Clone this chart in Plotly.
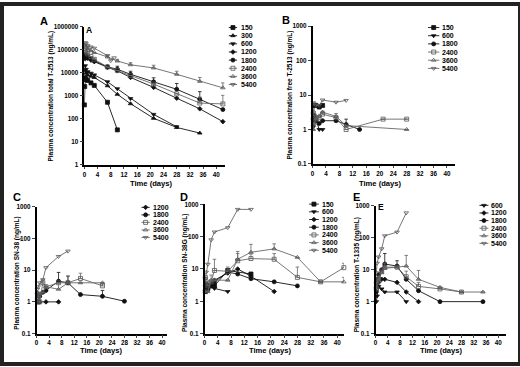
import plotly.graph_objects as go

# ---------------- DATA ----------------
X_TICKS = [0, 4, 8, 12, 16, 20, 24, 28, 32, 36, 40]
T_FULL = [0.25, 0.5, 1, 2, 3, 7, 10, 14, 21, 28, 35, 42]

# Panel A: total T-2513 (ng/mL)
A_150_t = [0, 0.1, 0.25, 0.5, 1, 2, 3, 7, 10]
A_150_v = [400, 2500, 6000, 5000, 4600, 3600, 2800, 520, 33]
A_300_t = [0.25, 0.5, 1, 2, 3, 7, 10, 14, 21, 28, 35]
A_300_v = [12000, 9500, 8000, 7000, 6200, 2700, 1150, 450, 105, 42, 24]
A_600_t = [0.25, 0.5, 1, 2, 3, 7, 10, 14, 21, 28]
A_600_v = [20000, 14000, 11000, 9500, 8000, 4000, 2000, 750, 155, 45]
A_1200_v = [40000, 45000, 42000, 35000, 30000, 17000, 12000, 6200, 2300, 780, 270, 75]
A_1800_v = [60000, 55000, 48000, 40000, 33000, 18000, 14000, 8500, 4000, 1900, 700, 250]
A_1800_e = [0, 0, 0, 0, 0, 3000, 5000, 3000, 2000, 1500, 800, 0]
A_2400_v = [90000, 80000, 65000, 50000, 38000, 17500, 12500, 7500, 3200, 1200, 480, 440]
A_2400_e = [0, 0, 0, 0, 0, 0, 0, 0, 0, 0, 400, 600]
A_3600_v = [150000, 130000, 110000, 90000, 75000, 48000, 32000, 22000, 16000, 8500, 4200, 2200]
A_3600_e = [0, 0, 0, 0, 0, 8000, 6000, 5000, 5000, 3000, 2000, 1400]
A_5400_t = [0.25, 0.5, 1, 2, 3, 7, 8, 9]
A_5400_v = [200000, 180000, 150000, 130000, 115000, 55000, 33000, 44000]

# Panel B: free T-2513 (ng/mL)
B_150_t = [0.25, 0.5, 1, 2, 3]
B_150_v = [2, 5, 5, 4.5, 5]
B_600_t = [0.25, 0.5, 1, 2, 3]
B_600_v = [1.2, 1.8, 2, 1, 1]
B_1800_t = [0.25, 0.5, 1, 2, 3, 7, 10, 14]
B_1800_v = [2, 2.5, 1.8, 1.5, 1.8, 1.8, 1.4, 1.0]
B_1800_e = [0, 0, 0, 0, 0, 0, 0.6, 0]
B_2400_t = [0.25, 0.5, 1, 2, 3, 7, 10, 21, 28]
B_2400_v = [3, 2.5, 2, 2.2, 2.8, 2.2, 1.0, 2, 2]
B_2400_e = [0, 0, 0, 0, 0.6, 0, 0, 0, 0]
B_3600_t = [0.25, 0.5, 1, 2, 3, 7, 10, 28]
B_3600_v = [1, 1.5, 2, 2.5, 3.2, 2.4, 1.3, 1]
B_3600_e = [0, 0, 0, 0, 0, 0.5, 0, 0]
B_5400_t = [0.25, 0.5, 1, 2, 3, 7, 10]
B_5400_v = [6, 5.5, 5, 5, 7.2, 6.2, 7]

# Panel C: SN-38 (ng/mL)
C_1200_t = [0.25, 0.5, 1, 3, 7]
C_1200_v = [1, 1, 1, 1, 1]
C_1800_t = [0.25, 0.5, 1, 2, 3, 7, 10, 14, 21, 28]
C_1800_v = [1.8, 1.5, 1.5, 2, 2.3, 4.5, 4, 1.7, 1.5, 1.05]
C_1800_e = [0, 0, 0, 0, 0, 4, 2.5, 0, 0.8, 0]
C_2400_t = [0.25, 0.5, 1, 2, 3, 7, 10, 14, 21]
C_2400_v = [1.2, 1, 1, 4, 3, 4, 4, 5.5, 3.2]
C_2400_e = [0, 0, 0, 1, 0, 0, 0, 2.5, 0.8]
C_3600_t = [0.25, 0.5, 1, 2, 3, 7, 10, 14, 21]
C_3600_v = [2, 1.5, 1.8, 2, 3, 2.5, 4, 4, 4]
C_3600_e = [0, 0, 0, 0, 0, 1.5, 2.5, 0, 0]
C_5400_t = [0.25, 0.5, 1, 2, 3, 7, 10]
C_5400_v = [2.5, 3, 4, 5, 12, 27, 40]

# Panel D: SN-38G (ng/mL)
D_150_t = [0.25, 0.5, 1, 2, 3, 7, 14]
D_150_v = [2, 3, 2.5, 3, 3, 9, 7]
D_600_t = [0.25, 0.5, 1, 3, 7]
D_600_v = [2, 2.2, 3, 2.5, 2]
D_1200_t = [0.25, 0.5, 1, 2, 3, 7, 10, 14, 21]
D_1200_v = [3, 2.5, 3, 3.5, 4.5, 7.5, 10, 6, 2]
D_1800_t = [0.25, 0.5, 1, 2, 3, 7, 10, 14, 21, 28]
D_1800_v = [3, 3.5, 2.5, 3, 4, 8, 7, 5, 4, 3]
D_2400_v = [5.5, 4, 3, 4, 9, 8.5, 18, 21, 20, 5.5, 4, 11]
D_2400_e = [0, 0, 0, 0, 11, 3, 12, 8, 10, 6, 0, 4]
D_3600_v = [2, 2, 2, 4.5, 4.5, 4.5, 20, 33, 42, 23, 4, 4]
D_3600_e = [0, 0, 0, 2, 0, 0, 15, 25, 18, 0, 0, 1.5]
D_5400_t = [0.25, 0.5, 1, 2, 3, 7, 10, 14]
D_5400_v = [5, 8, 14, 80, 140, 190, 700, 700]

# Panel E: T-1335 (ng/mL)
E_600_t = [0.25, 0.5, 1, 2, 3, 7, 10]
E_600_v = [1, 1.5, 3, 2.5, 2, 2, 1]
E_1200_t = [0.25, 0.5, 1, 2, 3, 7, 10, 14]
E_1200_v = [2, 3, 4, 5, 5, 4, 2, 1]
E_1800_t = [0.25, 0.5, 1, 2, 3, 7, 10, 14, 21, 35]
E_1800_v = [4, 5, 7, 10, 15, 13, 5, 2.2, 1, 1]
E_1800_e = [0, 0, 0, 0, 17, 6, 0, 0, 0, 0]
E_2400_t = [0.25, 0.5, 1, 2, 3, 7, 10, 14, 21, 28]
E_2400_v = [2.5, 4, 5, 9, 12, 12, 6, 3, 2.5, 2]
E_2400_e = [0, 0, 0, 0, 0, 0, 3, 1, 0, 0]
E_3600_t = [0.25, 0.5, 1, 2, 3, 7, 10, 14, 21, 28, 35]
E_3600_v = [3, 4, 6, 8, 11, 12, 13, 5, 2.8, 2, 2]
E_3600_e = [0, 0, 0, 0, 5, 0, 15, 4.5, 0, 0, 0]
E_5400_t = [0.25, 0.5, 1, 2, 3, 7, 10]
E_5400_v = [8, 16, 25, 45, 115, 150, 600]

A_YTICKS = [1, 10, 100, 1000, 10000, 100000, 1000000]
BE_YTICKS = [0.1, 1, 10, 100, 1000]
BE_YTEXT = ["0.1", "1", "10", "100", "1000"]

# ---------------- STYLE / LAYOUT ----------------
W, H = 520, 367
FONT = "Liberation Sans, Arial, sans-serif"
STYLE = {
    "150": ("square", "#111", "#111"),
    "300": ("triangle-up", "#111", "#111"),
    "600": ("triangle-down", "#111", "#111"),
    "1200": ("diamond", "#111", "#111"),
    "1800": ("circle", "#111", "#111"),
    "2400": ("square-open", "#555", "#666"),
    "3600": ("triangle-up-open", "#555", "#666"),
    "5400": ("triangle-down-open", "#555", "#666"),
}
MSIZE = 4

def px(x):
    return x / W

def py(y):
    return 1 - y / H

# panel: (x0px, pxPerDay, xmax, ytop_px, ybot_px, ylog range)
PANELS = {
    1: (82.7, 3.31, 42.5, 23, 164, [0, 6]),
    2: (311.7, 3.375, 42.5, 22.7, 163, [-1, 3]),
    3: (34.7, 3.15, 41.5, 206.7, 336, [-1, 3]),
    4: (203.3, 3.33, 42.0, 204.3, 336, [-1, 3]),
    5: (375, 3.08, 42.5, 205.7, 336, [-1, 3]),
}

fig = go.Figure()

def add(panel, name, t, v, e=None):
    sym, col, lcol = STYLE[name]
    tr = dict(
        x=t, y=v, mode="lines+markers", name=name, showlegend=False,
        xaxis="x" if panel == 1 else f"x{panel}",
        yaxis="y" if panel == 1 else f"y{panel}",
        line=dict(color=lcol, width=0.9),
        marker=dict(symbol=sym, size=MSIZE if name != "1200" else 3.5, color=col,
                    line=dict(color=col, width=0.8)),
        cliponaxis=False,
    )
    if e is not None:
        tr["error_y"] = dict(type="data", symmetric=False, array=e,
                             arrayminus=[0] * len(e), width=1.8,
                             thickness=0.8, color=lcol)
    fig.add_trace(go.Scatter(**tr))

# Panel A
add(1, "150", A_150_t, A_150_v)
add(1, "300", A_300_t, A_300_v)
add(1, "600", A_600_t, A_600_v)
add(1, "1200", T_FULL, A_1200_v)
add(1, "1800", T_FULL, A_1800_v, A_1800_e)
add(1, "2400", T_FULL, A_2400_v, A_2400_e)
add(1, "3600", T_FULL, A_3600_v, A_3600_e)
add(1, "5400", A_5400_t, A_5400_v)
# Panel B
add(2, "150", B_150_t, B_150_v)
add(2, "600", B_600_t, B_600_v)
add(2, "1800", B_1800_t, B_1800_v, B_1800_e)
add(2, "2400", B_2400_t, B_2400_v, B_2400_e)
add(2, "3600", B_3600_t, B_3600_v, B_3600_e)
add(2, "5400", B_5400_t, B_5400_v)
# Panel C
add(3, "1200", C_1200_t, C_1200_v)
add(3, "1800", C_1800_t, C_1800_v, C_1800_e)
add(3, "2400", C_2400_t, C_2400_v, C_2400_e)
add(3, "3600", C_3600_t, C_3600_v, C_3600_e)
add(3, "5400", C_5400_t, C_5400_v)
# Panel D
add(4, "150", D_150_t, D_150_v)
add(4, "600", D_600_t, D_600_v)
add(4, "1200", D_1200_t, D_1200_v)
add(4, "1800", D_1800_t, D_1800_v)
add(4, "2400", T_FULL, D_2400_v, D_2400_e)
add(4, "3600", T_FULL, D_3600_v, D_3600_e)
add(4, "5400", D_5400_t, D_5400_v)
# Panel E
add(5, "600", E_600_t, E_600_v)
add(5, "1200", E_1200_t, E_1200_v)
add(5, "1800", E_1800_t, E_1800_v, E_1800_e)
add(5, "2400", E_2400_t, E_2400_v, E_2400_e)
add(5, "3600", E_3600_t, E_3600_v, E_3600_e)
add(5, "5400", E_5400_t, E_5400_v)

layout = dict(
    width=W, height=H, margin=dict(l=0, r=0, t=0, b=0),
    paper_bgcolor="white", plot_bgcolor="rgba(0,0,0,0)",
    font=dict(family=FONT, color="black"),
)
tickfont = dict(family=FONT, size=6.3, color="black", weight="bold")
for i, (x0, ppd, xmax, yt, yb, yr) in PANELS.items():
    xk = "xaxis" if i == 1 else f"xaxis{i}"
    yk = "yaxis" if i == 1 else f"yaxis{i}"
    layout[xk] = dict(
        domain=[px(x0), px(x0 + ppd * xmax)], range=[0, xmax],
        anchor="y" if i == 1 else f"y{i}",
        tickvals=X_TICKS, ticks="outside", ticklen=2.5, tickwidth=1.2,
        showline=True, linewidth=1.5, linecolor="black", showgrid=False,
        zeroline=False, tickfont=tickfont, fixedrange=True,
    )
    yvals = A_YTICKS if i == 1 else BE_YTICKS
    ytext = [str(v) for v in A_YTICKS] if i == 1 else BE_YTEXT
    layout[yk] = dict(
        domain=[py(yb), py(yt)], type="log", range=yr,
        anchor="x" if i == 1 else f"x{i}",
        tickvals=yvals, ticktext=ytext, ticks="outside", ticklen=3,
        tickwidth=1.2, showline=True, linewidth=1.5, linecolor="black",
        showgrid=False, zeroline=False, tickfont=tickfont, fixedrange=True,
    )
# overlay pixel axis for legends
layout["xaxis6"] = dict(domain=[0, 1], range=[0, W], visible=False, anchor="y6", fixedrange=True)
layout["yaxis6"] = dict(domain=[0, 1], range=[H, 0], visible=False, anchor="x6", fixedrange=True)
fig.update_layout(**layout)

# legends (pixel layout)
LEGENDS = [
    (227.7, 236.0, 237.8, 24.0, 8.3, ["150", "300", "600", "1200", "1800", "2400", "3600", "5400"]),
    (427.7, 439.0, 440.0, 24.0, 8.33, ["150", "600", "1800", "2400", "3600", "5400"]),
    (140.0, 148.3, 150.0, 207.3, 7.67, ["1200", "1800", "2400", "3600", "5400"]),
    (308.3, 318.0, 319.3, 204.0, 7.85, ["150", "600", "1200", "1800", "2400", "3600", "5400"]),
    (479.3, 488.3, 489.3, 205.3, 7.75, ["600", "1200", "1800", "2400", "3600", "5400"]),
]
ann = []
for (lx0, lx1, tx, y0, dy, names) in LEGENDS:
    for k, nm in enumerate(names):
        sym, col, lcol = STYLE[nm]
        yy = y0 + k * dy
        fig.add_trace(go.Scatter(
            x=[lx0, lx1], y=[yy, yy], mode="lines",
            xaxis="x6", yaxis="y6", showlegend=False, hoverinfo="skip",
            line=dict(color=lcol, width=0.9),
        ))
        fig.add_trace(go.Scatter(
            x=[(lx0 + lx1) / 2], y=[yy], mode="markers",
            xaxis="x6", yaxis="y6", showlegend=False, hoverinfo="skip",
            marker=dict(symbol=sym, size=MSIZE if nm != "1200" else 3.5, color=col,
                        line=dict(color=col, width=0.8)),
        ))
        ann.append(dict(x=px(tx), y=py(yy), xref="paper", yref="paper", text=nm,
                        showarrow=False, xanchor="left", yanchor="middle",
                        font=dict(family=FONT, size=7, color="#000", weight="bold")))

YTITLES = [
    (49.0, 93.5, "Plasma concentration total T-2513 (ng/mL)"),
    (289.5, 93.0, "Plasma concentration free T-2513 (ng/mL)"),
    (15.0, 274.0, "Plasma concentration SN-38 (ng/mL)"),
    (183.0, 274.0, "Plasma concentration SN-38G (ng/mL)"),
    (356.0, 276.0, "Plasma concentration T-1335 (ng/mL)"),
]
for x, y, t in YTITLES:
    ann.append(dict(x=px(x), y=py(y), xref="paper", yref="paper", text=t, textangle=-90,
                    showarrow=False, xanchor="center", yanchor="middle",
                    font=dict(family=FONT, size=6.5, color="black", weight="bold")))
XTITLES = [(150.0, 182.5), (380.0, 182.5), (100.0, 353.5), (270.0, 353.5), (441.0, 353.5)]
for x, y in XTITLES:
    ann.append(dict(x=px(x), y=py(y), xref="paper", yref="paper", text="Time (days)",
                    showarrow=False, xanchor="center", yanchor="middle",
                    font=dict(family=FONT, size=7.6, color="black", weight="bold")))
LETTERS = [(42.0, 17.0, "A", 11), (285.0, 16.0, "B", 11), (15.0, 197.0, "C", 11),
           (183.0, 196.5, "D", 11), (356.0, 196.5, "E", 11),
           (87.5, 26.0, "A", 8.5), (380.0, 207.0, "E", 8.5)]
for x, y, t, s in LETTERS:
    ann.append(dict(x=px(x), y=py(y), xref="paper", yref="paper", text=t,
                    showarrow=False, xanchor="center", yanchor="middle",
                    font=dict(family=FONT, size=s, color="black", weight="bold")))
fig.update_layout(annotations=ann)

fig.add_shape(type="rect", xref="paper", yref="paper", x0=0, y0=0, x1=1, y1=1,
              line=dict(color="#222", width=4))

fig.write_html("out.html", config={"displayModeBar": False},
               post_script="document.body.style.margin='0px';document.body.style.overflow='hidden';")
